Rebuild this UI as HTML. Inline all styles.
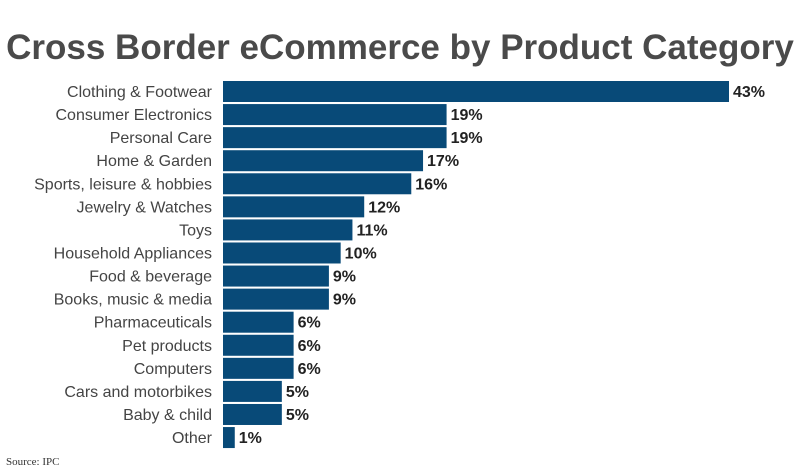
<!DOCTYPE html>
<html><head><meta charset="utf-8"><style>
body{margin:0;background:#fff;}
svg{display:block;font-family:"Liberation Sans",sans-serif;}
</style></head><body>
<svg width="800" height="473" viewBox="0 0 800 473">
<text x="400" y="59" text-anchor="middle" font-size="35" font-weight="bold" fill="#4a4a4a">Cross Border eCommerce by Product Category</text>
<g id="bars"></g>
<text x="6" y="465" font-family="Liberation Serif, serif" font-size="11" fill="#333">Source: IPC</text>
</svg>
<script>
const categories=["Clothing & Footwear","Consumer Electronics","Personal Care","Home & Garden","Sports, leisure & hobbies","Jewelry & Watches","Toys","Household Appliances","Food & beverage","Books, music & media","Pharmaceuticals","Pet products","Computers","Cars and motorbikes","Baby & child","Other"];
const values=[43,19,19,17,16,12,11,10,9,9,6,6,6,5,5,1];
const valueLabels=["43%","19%","19%","17%","16%","12%","11%","10%","9%","9%","6%","6%","6%","5%","5%","1%"];
const x0=223, pxPer=(729-223)/43, y0=81, step=23.07, bh=21;
const xScale=v=>x0+v*pxPer;
const yScale=i=>y0+i*step;
const g=document.getElementById('bars');
const NS="http://www.w3.org/2000/svg";
categories.forEach((c,i)=>{
  const y=yScale(i);
  const r=document.createElementNS(NS,'rect');
  r.setAttribute('x',x0);r.setAttribute('y',y);
  r.setAttribute('width',xScale(values[i])-x0);r.setAttribute('height',bh);
  r.setAttribute('fill','#084a78');
  
  
  g.appendChild(r);
  const l=document.createElementNS(NS,'text');
  l.setAttribute('x',212);l.setAttribute('y',y+bh/2+5.5);
  l.setAttribute('text-anchor','end');l.setAttribute('font-size','16');l.setAttribute('fill','#444');
  l.textContent=c;
  
  
  g.appendChild(l);
  const v=document.createElementNS(NS,'text');
  v.setAttribute('x',xScale(values[i])+4);v.setAttribute('y',y+bh/2+5.5);
  v.setAttribute('font-size','16');v.setAttribute('font-weight','bold');v.setAttribute('fill','#222');
  v.textContent=valueLabels[i];
  
  
  g.appendChild(v);
});
</script>
</body></html>
